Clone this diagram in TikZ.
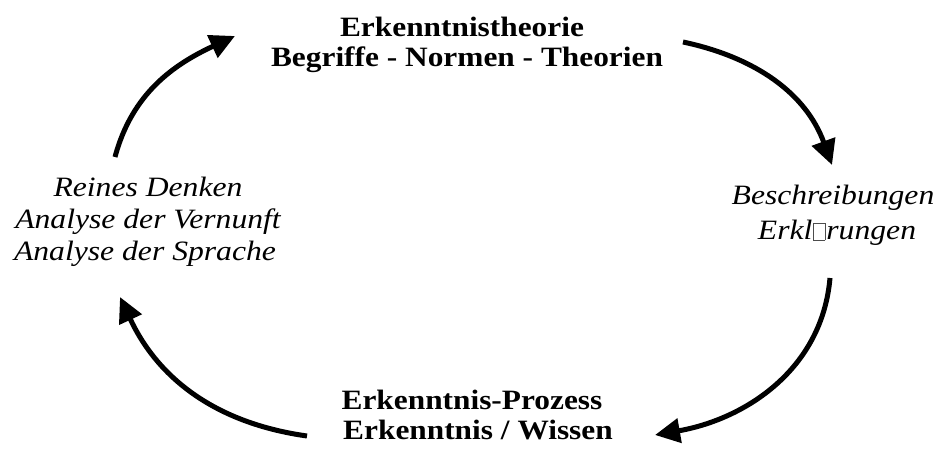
\documentclass[tikz,border=0pt]{standalone}
\usepackage{fontspec}
\setmainfont{Liberation Serif}
\usetikzlibrary{arrows.meta}
% placeholder box for a glyph the font could not show
\newcommand\nofontglyph{\kern0.03em{\color{black!70}\fboxsep=0pt\fboxrule=0.6pt\fbox{\rule{0pt}{0.6em}\rule{0.34em}{0pt}}}\kern0.03em}
\begin{document}
\begin{tikzpicture}[x=1pt,y=1pt,
  label text/.style={anchor=base,inner sep=0pt,transform shape},
  heading/.style={label text,xscale=1.12,font=\fontsize{28}{32}\selectfont\bfseries},
  remark/.style={label text,xscale=1.13,font=\fontsize{28}{32}\selectfont\itshape},
  cycle arrow/.style={line width=5pt,-{Triangle[length=25pt,width=24pt]}}]
\useasboundingbox (0,0) rectangle (939,460);
% top
\node[heading] (t1) at (462,423.3) {Erkenntnistheorie};
\node[heading] (t2) at (467,393) {Begriffe - Normen - Theorien};
% right
\node[remark] (r1) at (833,255) {Beschreibungen};
\node[remark] (r2) at (837,220) {Erkl\nofontglyph rungen};
% bottom
\node[heading] (b1) at (472,50) {Erkenntnis-Prozess};
\node[heading] (b2) at (478,20) {Erkenntnis / Wissen};
% left
\node[remark] (l1) at (148,263) {Reines Denken};
\node[remark] (l2) at (148,231) {Analyse der Vernunft};
\node[remark] (l3) at (145,199) {Analyse der Sprache};
% arrow ends
\coordinate (a1s) at (115,303);
\coordinate (a1e) at (235,424);
\coordinate (a2s) at (683,418);
\coordinate (a2e) at (832,295);
\coordinate (a3s) at (830,182);
\coordinate (a3e) at (655,25);
\coordinate (a4s) at (307,24);
\coordinate (a4e) at (120,163);
\draw[cycle arrow] (a1s) to[out=75,in=205] (a1e);
\draw[cycle arrow] (a2s) to[out=-12,in=110] (a2e);
\draw[cycle arrow] (a3s) to[out=-95,in=10] (a3e);
\draw[cycle arrow] (a4s) to[out=172,in=-65] (a4e);
\end{tikzpicture}
\end{document}
